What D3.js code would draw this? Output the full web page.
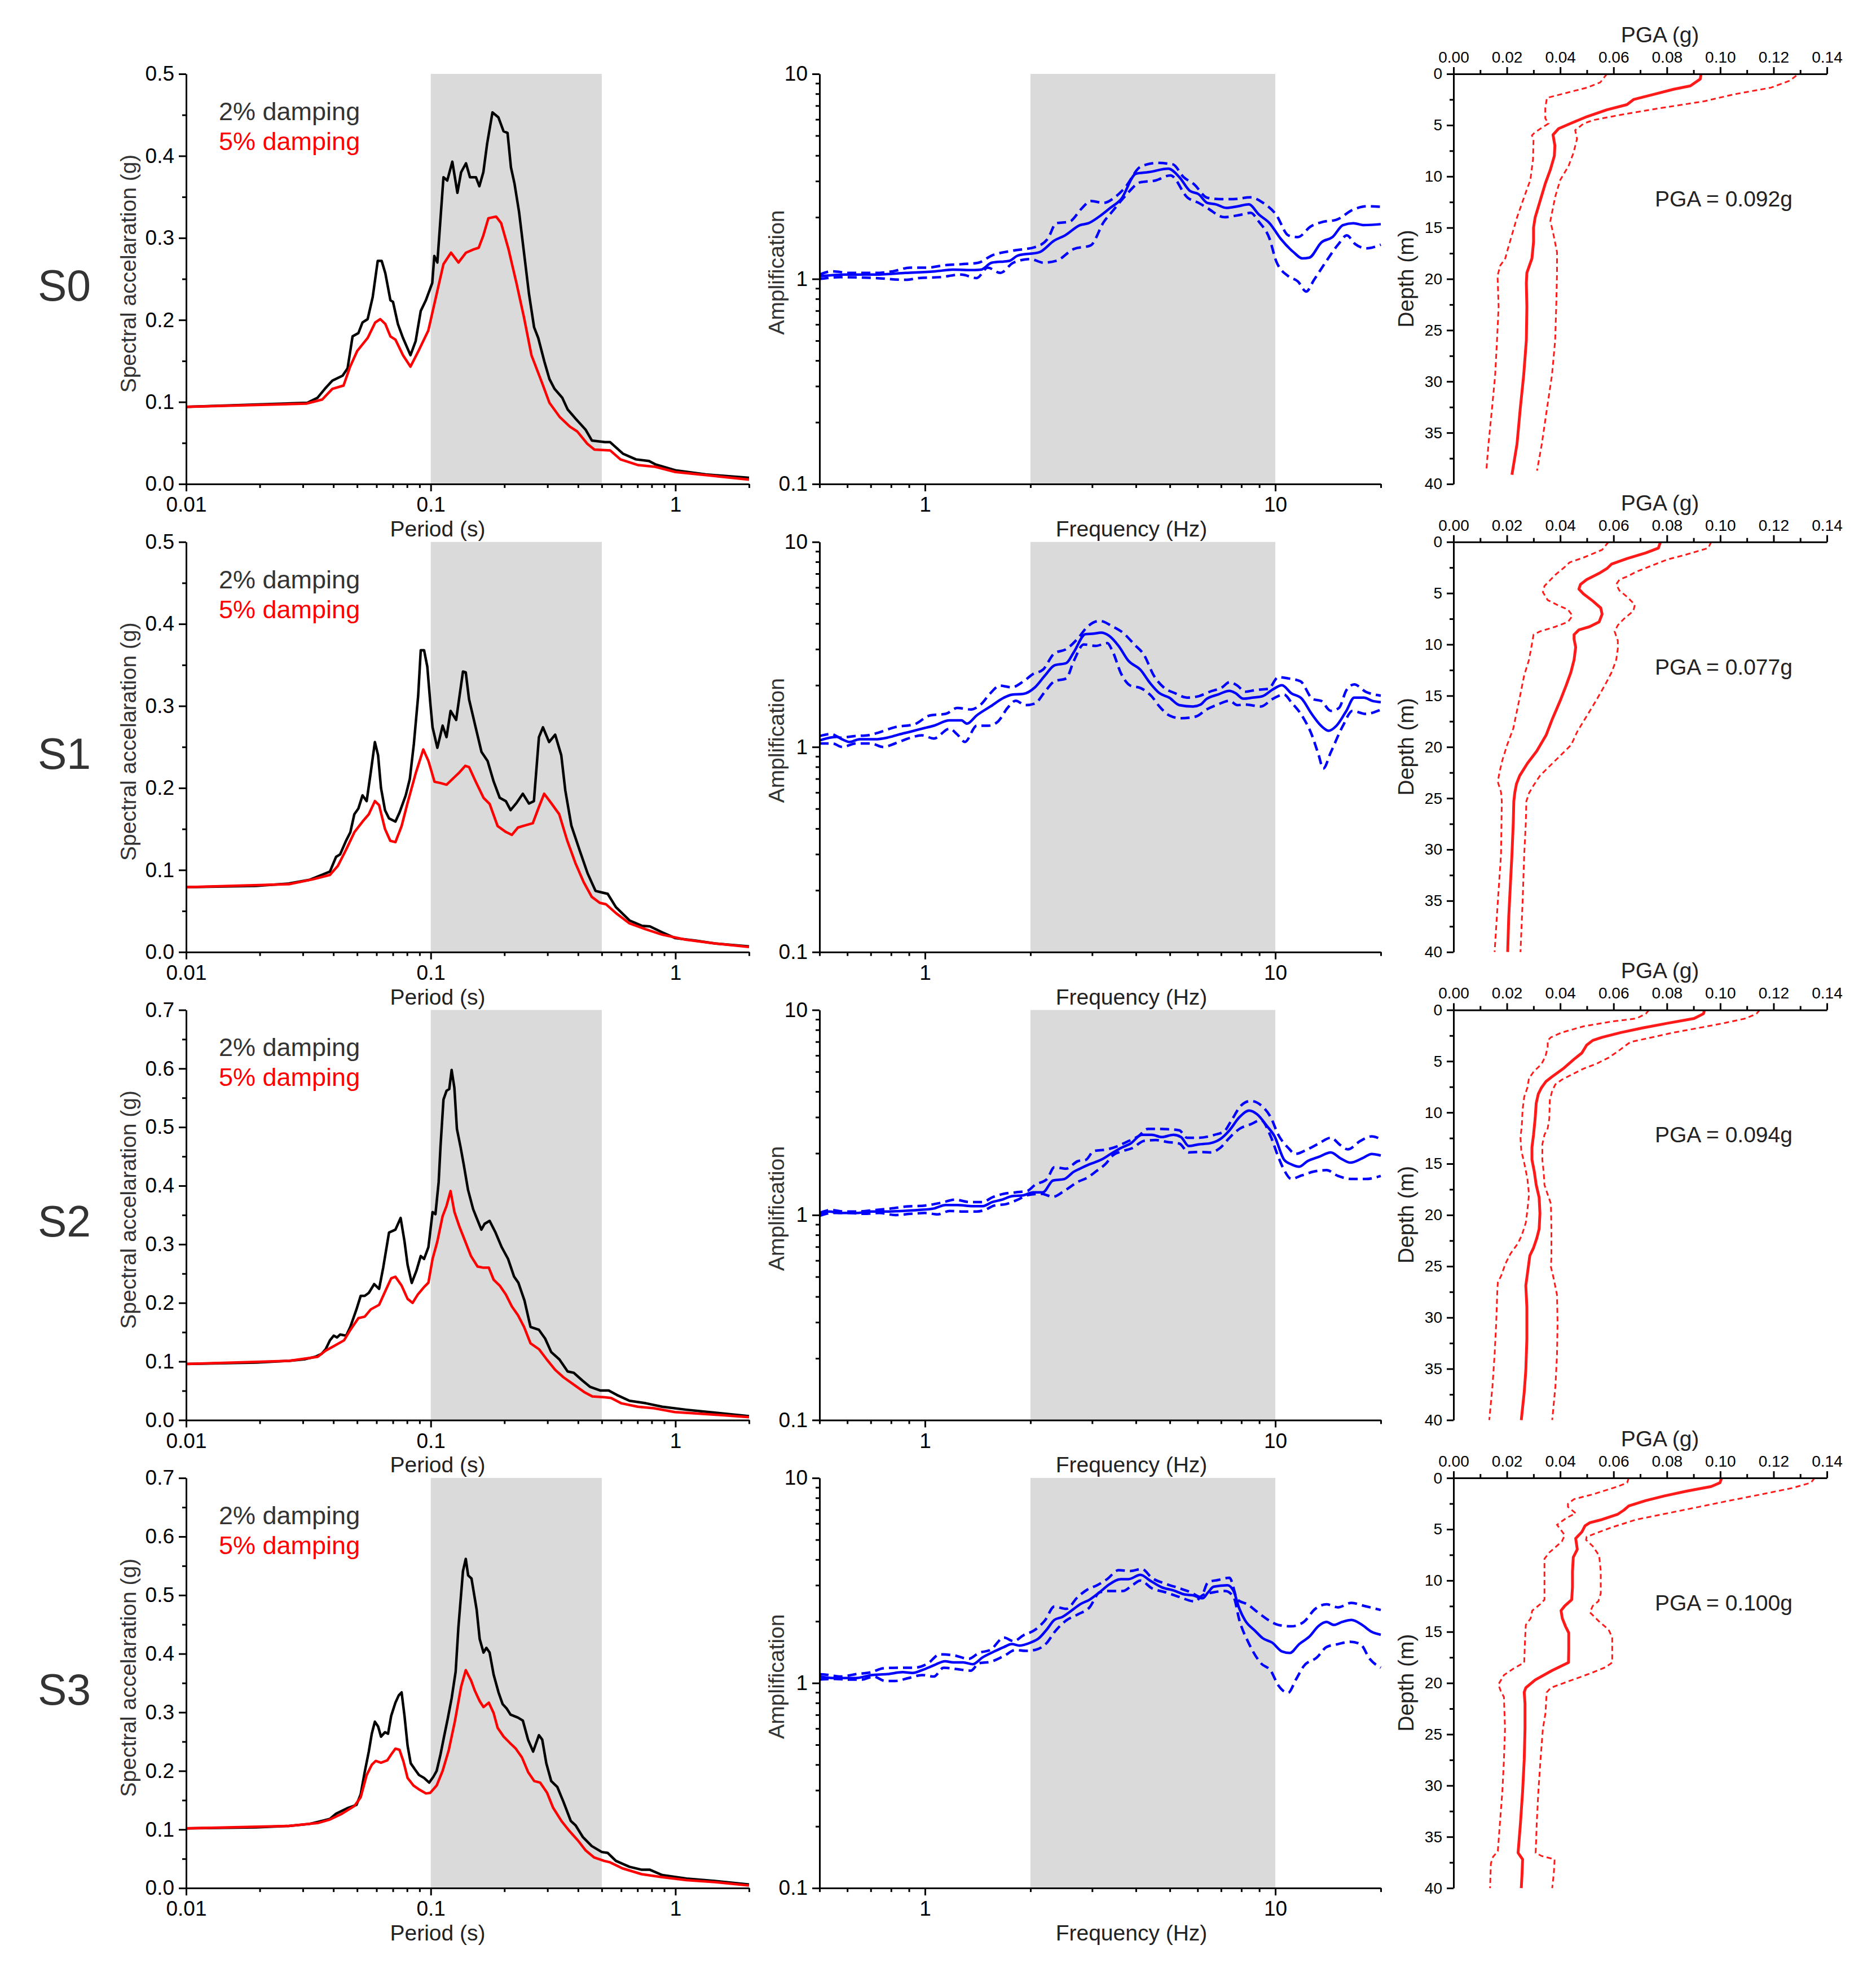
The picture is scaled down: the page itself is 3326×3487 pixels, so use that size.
<!DOCTYPE html>
<html>
<head>
<meta charset="utf-8">
<script src="https://cdn.jsdelivr.net/npm/d3@7"></script>
<style>
  body { margin: 0; background: #fff; }
  svg { display: block; }
</style>
</head>
<body>
<svg id="fig"></svg>
<script>
// sites and tick labels
const siteNames = ['S0', 'S1', 'S2', 'S3'];
const saMax = [0.5, 0.5, 0.7, 0.7];
const sitePga = ['0.092', '0.077', '0.094', '0.100'];
const periodTicks = [0.01, 0.1, 1];
const freqTicks = [1, 10];
const ampTicks = [0.1, 1, 10];
const pgaTicks = [0, 0.02, 0.04, 0.06, 0.08, 0.10, 0.12, 0.14];
const depthTicks = [0, 5, 10, 15, 20, 25, 30, 35, 40];

// response spectra [period s, Sa g]
const s0Sa2 = [[0.01,0.094],[0.0313,0.099],[0.0344,0.105],[0.0369,0.116],[0.0396,0.126],[0.0436,0.132],[0.0457,0.141],[0.0479,0.180],[0.0506,0.184],[0.0526,0.197],[0.0552,0.201],[0.0579,0.228],[0.0607,0.272],[0.063,0.272],[0.0652,0.257],[0.0684,0.224],[0.0701,0.222],[0.0734,0.195],[0.077,0.178],[0.0826,0.157],[0.0867,0.174],[0.091,0.211],[0.0955,0.224],[0.1014,0.245],[0.1034,0.278],[0.1064,0.270],[0.1127,0.374],[0.1168,0.370],[0.1225,0.393],[0.1285,0.355],[0.133,0.380],[0.1393,0.391],[0.1446,0.374],[0.153,0.374],[0.158,0.363],[0.164,0.380],[0.170,0.415],[0.1787,0.453],[0.189,0.447],[0.1984,0.430],[0.206,0.428],[0.2127,0.386],[0.22,0.366],[0.2295,0.332],[0.2405,0.282],[0.252,0.232],[0.2645,0.191],[0.275,0.178],[0.2915,0.149],[0.3055,0.128],[0.3205,0.116],[0.345,0.105],[0.3625,0.091],[0.39,0.080],[0.43,0.066],[0.4555,0.053],[0.5155,0.051],[0.541,0.051],[0.61,0.037],[0.69,0.030],[0.78,0.028],[0.827,0.024],[1.0,0.0167],[1.33,0.0117],[2.0,0.0075]];
const s0Sa5 = [[0.01,0.094],[0.031,0.098],[0.036,0.103],[0.0396,0.116],[0.044,0.120],[0.0468,0.143],[0.05,0.162],[0.0552,0.178],[0.0593,0.197],[0.0622,0.201],[0.0652,0.195],[0.0684,0.180],[0.0717,0.176],[0.077,0.157],[0.0826,0.143],[0.089,0.162],[0.0977,0.187],[0.105,0.228],[0.1127,0.268],[0.121,0.282],[0.1298,0.270],[0.1393,0.282],[0.1496,0.286],[0.157,0.288],[0.164,0.303],[0.172,0.324],[0.185,0.326],[0.194,0.318],[0.208,0.286],[0.224,0.245],[0.2405,0.203],[0.258,0.157],[0.2845,0.124],[0.3055,0.099],[0.336,0.082],[0.37,0.070],[0.397,0.064],[0.4365,0.049],[0.4665,0.042],[0.541,0.041],[0.596,0.030],[0.705,0.023],[0.827,0.021],[1.0,0.0146],[1.46,0.0096],[2.0,0.0054]];
const s1Sa2 = [[0.01,0.079],[0.0193,0.0806],[0.0263,0.0835],[0.0319,0.088],[0.0358,0.094],[0.0387,0.098],[0.041,0.116],[0.0426,0.119],[0.0451,0.136],[0.0469,0.146],[0.0487,0.168],[0.0506,0.175],[0.0526,0.191],[0.0547,0.184],[0.0569,0.220],[0.0591,0.256],[0.0609,0.240],[0.0626,0.200],[0.065,0.173],[0.0675,0.163],[0.0717,0.159],[0.0745,0.170],[0.079,0.191],[0.0821,0.211],[0.0853,0.254],[0.0888,0.312],[0.091,0.368],[0.0939,0.368],[0.0968,0.348],[0.0996,0.303],[0.1017,0.274],[0.1064,0.249],[0.1118,0.276],[0.116,0.262],[0.1205,0.294],[0.127,0.283],[0.1354,0.342],[0.139,0.341],[0.1434,0.308],[0.152,0.276],[0.1612,0.244],[0.1707,0.233],[0.1807,0.208],[0.1914,0.188],[0.2027,0.184],[0.212,0.173],[0.2245,0.182],[0.2379,0.193],[0.252,0.181],[0.264,0.184],[0.2768,0.262],[0.2875,0.274],[0.3045,0.256],[0.3225,0.265],[0.3415,0.240],[0.3548,0.197],[0.3757,0.154],[0.405,0.125],[0.4375,0.096],[0.4715,0.0745],[0.4992,0.0727],[0.5286,0.071],[0.5712,0.0547],[0.6491,0.0385],[0.7288,0.032],[0.7865,0.0313],[0.8828,0.024],[1.0,0.0169],[1.2,0.014],[1.45,0.0104],[2.0,0.0068]];
const s1Sa5 = [[0.01,0.079],[0.0263,0.0827],[0.0331,0.0888],[0.0387,0.094],[0.0417,0.105],[0.0451,0.125],[0.0487,0.146],[0.0526,0.159],[0.0558,0.168],[0.0591,0.184],[0.0615,0.179],[0.065,0.150],[0.0683,0.1356],[0.0717,0.134],[0.076,0.1536],[0.0804,0.182],[0.0868,0.218],[0.0932,0.247],[0.0978,0.233],[0.1036,0.2076],[0.1096,0.206],[0.116,0.204],[0.1228,0.211],[0.13,0.218],[0.1383,0.227],[0.1434,0.2255],[0.152,0.209],[0.1643,0.188],[0.174,0.1806],[0.1876,0.1536],[0.2027,0.1464],[0.2145,0.1428],[0.2272,0.1518],[0.2424,0.1543],[0.2612,0.157],[0.2768,0.177],[0.2908,0.193],[0.31,0.182],[0.335,0.168],[0.3615,0.1356],[0.39,0.1086],[0.4215,0.0853],[0.455,0.0673],[0.4906,0.060],[0.5198,0.0583],[0.5712,0.0475],[0.6491,0.0349],[0.7565,0.0277],[0.8828,0.0212],[1.1,0.0151],[1.45,0.0104],[2.0,0.0061]];
const s2Sa2 = [[0.01,0.0958],[0.0193,0.098],[0.0263,0.101],[0.0307,0.104],[0.0337,0.108],[0.0358,0.113],[0.0372,0.121],[0.0387,0.136],[0.0401,0.144],[0.0414,0.141],[0.0426,0.146],[0.0451,0.144],[0.0469,0.159],[0.0497,0.189],[0.0517,0.212],[0.0537,0.212],[0.0558,0.217],[0.0587,0.232],[0.0615,0.224],[0.0639,0.26],[0.0675,0.32],[0.0717,0.325],[0.0753,0.345],[0.0781,0.305],[0.0804,0.265],[0.0836,0.234],[0.0874,0.255],[0.091,0.28],[0.0939,0.275],[0.0978,0.295],[0.1017,0.355],[0.1045,0.3515],[0.1077,0.406],[0.1096,0.4665],[0.1127,0.547],[0.116,0.562],[0.119,0.565],[0.1217,0.5975],[0.1249,0.567],[0.1279,0.497],[0.1323,0.4665],[0.1364,0.436],[0.142,0.393],[0.149,0.36],[0.154,0.345],[0.161,0.325],[0.166,0.335],[0.174,0.34],[0.184,0.32],[0.195,0.295],[0.207,0.275],[0.219,0.245],[0.228,0.2345],[0.2416,0.204],[0.2557,0.159],[0.2768,0.154],[0.2935,0.139],[0.3107,0.116],[0.3357,0.1034],[0.3626,0.083],[0.3843,0.0807],[0.4152,0.068],[0.4485,0.0565],[0.4938,0.0504],[0.5335,0.0504],[0.576,0.0429],[0.6491,0.0328],[0.7566,0.0287],[0.883,0.0227],[1.11,0.0176],[1.45,0.0126],[2.0,0.0066]];
const s2Sa5 = [[0.01,0.0958],[0.0263,0.101],[0.0345,0.108],[0.0372,0.1185],[0.0401,0.126],[0.0442,0.136],[0.0469,0.1538],[0.0506,0.174],[0.0537,0.1765],[0.0569,0.189],[0.0615,0.1967],[0.065,0.219],[0.0689,0.242],[0.0717,0.2446],[0.076,0.2295],[0.0804,0.2068],[0.0843,0.200],[0.0885,0.2143],[0.0939,0.227],[0.0978,0.2345],[0.1017,0.275],[0.1064,0.305],[0.1118,0.348],[0.116,0.3656],[0.1205,0.391],[0.1249,0.3555],[0.131,0.330],[0.1383,0.305],[0.146,0.28],[0.1553,0.262],[0.1643,0.26],[0.1727,0.26],[0.1807,0.2395],[0.1914,0.2295],[0.2027,0.2143],[0.2145,0.194],[0.2272,0.179],[0.2406,0.159],[0.2557,0.131],[0.2768,0.121],[0.298,0.1034],[0.3225,0.0857],[0.3485,0.0731],[0.3843,0.0605],[0.4235,0.0479],[0.4575,0.0403],[0.5143,0.0388],[0.5455,0.0378],[0.6,0.0287],[0.7013,0.0227],[0.8183,0.0202],[0.9945,0.0136],[1.35,0.0101],[2.0,0.005]];
const s3Sa2 = [[0.01,0.102],[0.0193,0.1035],[0.0263,0.106],[0.0319,0.1095],[0.0358,0.1146],[0.0387,0.118],[0.041,0.127],[0.0434,0.132],[0.046,0.137],[0.0497,0.142],[0.0517,0.16],[0.0537,0.198],[0.0558,0.233],[0.0574,0.2635],[0.0591,0.284],[0.0609,0.276],[0.0626,0.2585],[0.065,0.266],[0.0669,0.2635],[0.0689,0.294],[0.0717,0.3165],[0.074,0.329],[0.076,0.334],[0.0781,0.294],[0.0804,0.243],[0.0828,0.213],[0.086,0.203],[0.0895,0.193],[0.0939,0.188],[0.0985,0.18],[0.1025,0.19],[0.1057,0.2],[0.1096,0.228],[0.113,0.256],[0.1173,0.289],[0.1217,0.324],[0.1264,0.3695],[0.1297,0.445],[0.1354,0.541],[0.139,0.562],[0.1422,0.5336],[0.1467,0.5285],[0.154,0.4755],[0.1585,0.425],[0.1643,0.402],[0.1688,0.41],[0.174,0.402],[0.1807,0.3645],[0.1892,0.334],[0.1967,0.314],[0.2043,0.3065],[0.212,0.296],[0.2272,0.291],[0.2379,0.286],[0.25,0.253],[0.2621,0.233],[0.2768,0.261],[0.2855,0.2535],[0.2967,0.213],[0.3107,0.1827],[0.3291,0.1726],[0.3485,0.1474],[0.3736,0.1146],[0.391,0.107],[0.419,0.0868],[0.455,0.0717],[0.5,0.0616],[0.529,0.06],[0.5712,0.0464],[0.6491,0.0363],[0.7288,0.0313],[0.7865,0.0313],[0.883,0.0222],[1.11,0.0162],[1.45,0.0121],[2.0,0.0061]];
const s3Sa5 = [[0.01,0.102],[0.0263,0.106],[0.0345,0.111],[0.0387,0.117],[0.0434,0.127],[0.0487,0.14],[0.0517,0.155],[0.0547,0.193],[0.0574,0.2105],[0.0596,0.217],[0.0626,0.214],[0.0664,0.218],[0.0689,0.228],[0.0717,0.238],[0.0745,0.236],[0.0774,0.2155],[0.0804,0.188],[0.085,0.175],[0.0902,0.1676],[0.0956,0.1615],[0.0995,0.1625],[0.1057,0.175],[0.1118,0.2],[0.1185,0.2357],[0.1254,0.284],[0.1331,0.344],[0.139,0.372],[0.1461,0.3544],[0.1515,0.3367],[0.1585,0.319],[0.1643,0.309],[0.1727,0.3165],[0.1807,0.2988],[0.1876,0.2736],[0.1986,0.2585],[0.2103,0.248],[0.2227,0.238],[0.2359,0.223],[0.25,0.198],[0.2646,0.1827],[0.2801,0.18],[0.299,0.1625],[0.3164,0.137],[0.3421,0.1146],[0.3694,0.097],[0.3986,0.0818],[0.4302,0.0641],[0.4643,0.0525],[0.5112,0.0464],[0.5405,0.044],[0.6065,0.0338],[0.7288,0.0237],[0.883,0.0187],[1.11,0.0136],[1.45,0.0101],[2.0,0.0045]];

// amplification [frequency Hz, amplification]
const s0AmpMean = [[0.5,1.03],[0.592,1.05],[0.722,1.05],[0.88,1.07],[1.073,1.09],[1.2,1.11],[1.385,1.105],[1.445,1.11],[1.55,1.2],[1.74,1.225],[1.84,1.3],[2.12,1.35],[2.34,1.54],[2.51,1.63],[2.77,1.83],[2.93,1.87],[3.15,2.02],[3.38,2.22],[3.63,2.45],[4.0,3.26],[4.36,3.32],[4.95,3.45],[5.32,3.14],[5.7,2.69],[6.04,2.59],[6.39,2.35],[6.77,2.31],[7.26,2.22],[7.81,2.26],[8.4,2.31],[8.98,2.06],[9.63,1.87],[10.36,1.57],[11.28,1.35],[11.94,1.26],[12.5,1.27],[13.55,1.51],[14.56,1.6],[15.6,1.83],[16.7,1.87],[17.9,1.83],[20,1.85]];
const s0AmpHigh = [[0.5,1.05],[0.544,1.09],[0.61,1.07],[0.72,1.07],[0.81,1.09],[0.906,1.135],[1.01,1.135],[1.136,1.166],[1.27,1.18],[1.42,1.2],[1.55,1.3],[1.787,1.375],[2.06,1.43],[2.24,1.57],[2.37,1.87],[2.58,1.9],[2.81,2.22],[2.97,2.4],[3.24,2.35],[3.47,2.49],[3.73,2.8],[4.12,3.52],[4.6,3.68],[5.1,3.62],[5.47,3.14],[5.86,2.9],[6.39,2.49],[6.95,2.45],[7.6,2.45],[8.5,2.5],[9.23,2.35],[10.05,2.06],[10.9,1.63],[11.6,1.6],[12.6,1.8],[13.7,1.9],[14.9,1.94],[16.7,2.18],[18.2,2.26],[20,2.25]];
const s0AmpLow = [[0.5,1.0],[0.575,1.02],[0.72,1.01],[0.88,0.99],[0.96,1.01],[1.1,1.02],[1.27,1.05],[1.405,1.01],[1.51,1.135],[1.64,1.07],[1.787,1.2],[2.0,1.25],[2.18,1.2],[2.37,1.225],[2.66,1.4],[2.97,1.457],[3.24,1.9],[3.43,2.14],[3.73,2.54],[4.12,2.96],[4.55,3.02],[5.02,3.2],[5.62,2.49],[6.04,2.35],[6.39,2.22],[7.15,2.0],[8.0,2.06],[8.5,2.1],[8.98,1.9],[9.63,1.57],[10.05,1.225],[10.9,1.03],[11.6,0.973],[12.25,0.868],[12.9,0.99],[14.0,1.225],[15.15,1.48],[16.0,1.63],[16.9,1.48],[18.2,1.41],[20,1.47]];
const s1AmpMean = [[0.5,1.076],[0.56,1.12],[0.58,1.09],[0.61,1.058],[0.65,1.09],[0.72,1.09],[0.78,1.11],[0.842,1.15],[0.91,1.188],[0.995,1.236],[1.06,1.27],[1.175,1.348],[1.27,1.348],[1.318,1.3],[1.405,1.426],[1.537,1.575],[1.68,1.74],[1.77,1.8],[1.91,1.816],[2.06,1.954],[2.2,2.23],[2.34,2.5],[2.53,2.565],[2.66,2.9],[2.87,3.55],[3.03,3.57],[3.18,3.61],[3.35,3.49],[3.57,3.11],[3.81,2.63],[4.12,2.38],[4.39,2.05],[4.67,1.83],[4.98,1.74],[5.32,1.6],[5.82,1.575],[6.12,1.61],[6.35,1.71],[6.85,1.8],[7.4,1.877],[7.7,1.83],[8.1,1.72],[8.6,1.74],[9.2,1.77],[9.8,1.9],[10.45,2.0],[11.1,1.83],[11.9,1.72],[12.7,1.45],[13.5,1.27],[14.2,1.2],[14.95,1.27],[15.95,1.5],[16.8,1.74],[17.9,1.74],[18.9,1.68],[20,1.655]];
const s1AmpHigh = [[0.5,1.13],[0.54,1.157],[0.574,1.11],[0.628,1.13],[0.687,1.14],[0.742,1.18],[0.821,1.249],[0.933,1.29],[1.034,1.426],[1.145,1.45],[1.237,1.55],[1.352,1.524],[1.442,1.61],[1.537,1.83],[1.638,1.99],[1.77,1.954],[1.91,2.09],[2.036,2.27],[2.17,2.38],[2.34,2.86],[2.53,3.0],[2.73,3.38],[2.91,3.86],[3.15,4.12],[3.44,3.86],[3.67,3.61],[3.96,3.16],[4.22,2.81],[4.5,2.23],[4.8,1.954],[5.17,1.83],[5.6,1.74],[6.05,1.77],[6.5,1.86],[7.05,1.954],[7.4,2.07],[7.8,1.99],[8.2,1.86],[8.85,1.9],[9.55,1.92],[10.2,2.19],[10.88,2.16],[11.8,2.09],[12.8,1.71],[13.5,1.68],[14.4,1.5],[15.2,1.55],[15.95,1.89],[16.8,2.02],[18.1,1.86],[20,1.78]];
const s1AmpLow = [[0.5,1.04],[0.545,1.04],[0.58,1.0],[0.636,1.04],[0.7,1.04],[0.76,1.0],[0.821,1.04],[0.91,1.11],[0.98,1.14],[1.06,1.1],[1.175,1.228],[1.237,1.15],[1.3,1.058],[1.405,1.27],[1.517,1.27],[1.618,1.334],[1.72,1.55],[1.815,1.68],[1.935,1.6],[2.06,1.63],[2.2,1.86],[2.34,2.09],[2.53,2.16],[2.66,2.63],[2.84,3.16],[3.07,3.11],[3.31,3.21],[3.44,2.9],[3.62,2.3],[3.86,1.99],[4.12,1.94],[4.43,1.77],[4.67,1.575],[4.98,1.426],[5.38,1.38],[5.95,1.41],[6.35,1.52],[6.85,1.61],[7.4,1.68],[7.8,1.6],[8.2,1.61],[9.1,1.575],[9.8,1.71],[10.6,1.8],[11.1,1.655],[11.9,1.426],[12.7,1.15],[13.3,0.911],[13.7,0.785],[14.4,0.942],[15.6,1.27],[16.6,1.5],[18.1,1.45],[20,1.52]];
const s2AmpMean = [[0.5,1.007],[0.532,1.04],[0.574,1.023],[0.636,1.023],[0.704,1.04],[0.78,1.04],[0.864,1.047],[0.957,1.058],[1.06,1.076],[1.145,1.119],[1.237,1.119],[1.37,1.105],[1.46,1.105],[1.557,1.157],[1.66,1.188],[1.77,1.236],[1.91,1.248],[2.036,1.29],[2.17,1.29],[2.32,1.473],[2.5,1.498],[2.66,1.627],[2.77,1.683],[2.95,1.768],[3.18,1.858],[3.39,1.985],[3.62,2.12],[3.86,2.23],[4.16,2.46],[4.44,2.46],[4.74,2.4],[5.12,2.46],[5.38,2.4],[5.66,2.17],[6.04,2.21],[6.52,2.24],[6.95,2.34],[7.4,2.59],[7.9,3.0],[8.42,3.23],[8.87,3.1],[9.46,2.72],[9.95,2.42],[10.6,1.858],[11.1,1.768],[11.7,1.72],[12.35,1.83],[13.3,1.92],[14.4,2.02],[15.35,1.89],[16.4,1.8],[17.7,1.89],[18.85,1.985],[20,1.95]];
const s2AmpHigh = [[0.5,1.023],[0.54,1.058],[0.589,1.04],[0.636,1.04],[0.722,1.058],[0.8,1.076],[0.887,1.1],[1.0,1.112],[1.116,1.149],[1.22,1.188],[1.335,1.157],[1.46,1.157],[1.557,1.22],[1.68,1.269],[1.815,1.29],[1.96,1.312],[2.06,1.402],[2.23,1.498],[2.34,1.71],[2.53,1.683],[2.73,1.83],[2.88,1.858],[3.03,2.05],[3.31,2.09],[3.53,2.16],[3.76,2.27],[4.06,2.42],[4.33,2.63],[4.62,2.63],[4.92,2.62],[5.32,2.59],[5.6,2.38],[6.04,2.38],[6.7,2.46],[7.15,2.56],[7.5,2.9],[8.0,3.43],[8.5,3.6],[9.1,3.43],[9.7,3.0],[10.2,2.46],[10.9,2.12],[11.4,1.985],[12.35,2.09],[13.3,2.23],[14.4,2.38],[15.35,2.19],[16.1,2.09],[17.5,2.3],[18.85,2.42],[20,2.34]];
const s2AmpLow = [[0.5,0.99],[0.545,1.023],[0.604,1.023],[0.669,1.013],[0.742,1.023],[0.821,1.0],[0.91,1.013],[1.0,1.023],[1.088,1.007],[1.175,1.047],[1.285,1.04],[1.405,1.04],[1.48,1.058],[1.577,1.112],[1.702,1.13],[1.84,1.188],[1.96,1.248],[2.143,1.269],[2.32,1.228],[2.5,1.312],[2.73,1.45],[2.91,1.523],[3.07,1.627],[3.27,1.768],[3.44,1.954],[3.67,2.05],[3.91,2.12],[4.22,2.3],[4.56,2.32],[4.92,2.27],[5.32,2.23],[5.66,2.02],[6.04,2.03],[6.52,2.02],[6.95,2.12],[7.4,2.38],[7.9,2.63],[8.5,2.77],[9.1,2.9],[9.7,2.42],[10.2,1.92],[10.6,1.655],[11.1,1.5],[11.9,1.56],[12.85,1.627],[14.0,1.655],[15.1,1.55],[16.6,1.498],[18.1,1.498],[20,1.55]];
const s3AmpMean = [[0.5,1.076],[0.545,1.058],[0.589,1.058],[0.636,1.058],[0.704,1.094],[0.78,1.105],[0.864,1.13],[0.921,1.119],[0.982,1.157],[1.06,1.22],[1.14,1.278],[1.205,1.261],[1.285,1.261],[1.37,1.236],[1.46,1.334],[1.577,1.426],[1.68,1.498],[1.77,1.548],[1.86,1.523],[2.0,1.574],[2.115,1.655],[2.23,1.83],[2.34,2.03],[2.465,2.1],[2.66,2.3],[2.77,2.42],[2.95,2.55],[3.15,2.77],[3.35,3.02],[3.62,3.21],[3.81,3.21],[4.12,3.37],[4.39,3.16],[4.74,2.93],[5.12,2.83],[5.53,2.7],[5.81,2.68],[6.2,2.59],[6.43,2.77],[6.67,2.95],[7.3,3.0],[7.6,2.81],[7.9,2.3],[8.2,2.02],[8.75,1.8],[9.2,1.655],[9.8,1.574],[10.45,1.426],[11.0,1.402],[11.7,1.548],[12.5,1.683],[13.3,1.9],[14.0,1.985],[14.7,1.92],[15.5,1.985],[16.5,2.03],[17.7,1.92],[18.8,1.78],[20,1.72]];
const s3AmpHigh = [[0.5,1.105],[0.532,1.094],[0.574,1.076],[0.636,1.105],[0.704,1.13],[0.76,1.18],[0.842,1.188],[0.933,1.188],[1.02,1.248],[1.102,1.38],[1.205,1.366],[1.335,1.312],[1.424,1.402],[1.537,1.45],[1.68,1.665],[1.79,1.6],[1.91,1.71],[2.06,1.816],[2.2,2.02],[2.34,2.36],[2.53,2.3],[2.73,2.63],[2.91,2.86],[3.1,3.0],[3.31,3.21],[3.57,3.55],[3.86,3.52],[4.16,3.6],[4.44,3.26],[4.86,3.05],[5.32,2.9],[5.74,2.77],[6.12,2.63],[6.43,3.1],[6.85,3.18],[7.4,3.26],[7.8,2.55],[8.32,2.42],[8.98,2.19],[9.55,2.03],[10.2,1.92],[11.1,1.89],[12.05,1.985],[13.0,2.3],[14.0,2.42],[15.1,2.34],[16.5,2.46],[17.9,2.38],[20,2.27]];
const s3AmpLow = [[0.5,1.04],[0.545,1.047],[0.604,1.04],[0.661,1.04],[0.713,1.076],[0.77,1.023],[0.821,1.023],[0.898,1.058],[0.982,1.094],[1.06,1.076],[1.13,1.188],[1.237,1.168],[1.352,1.149],[1.424,1.248],[1.537,1.269],[1.68,1.356],[1.815,1.45],[1.935,1.435],[2.06,1.45],[2.23,1.574],[2.34,1.768],[2.53,2.02],[2.73,2.16],[2.95,2.34],[3.15,2.77],[3.35,2.81],[3.67,2.81],[3.91,3.0],[4.12,3.16],[4.44,2.9],[4.86,2.77],[5.32,2.63],[5.89,2.5],[6.2,2.68],[6.67,2.77],[7.2,2.81],[7.6,2.63],[7.9,2.02],[8.42,1.55],[9.1,1.248],[9.7,1.149],[10.2,0.974],[10.88,0.896],[11.45,1.04],[12.05,1.208],[13.15,1.334],[14.0,1.498],[15.1,1.548],[16.4,1.59],[17.5,1.548],[18.6,1.312],[20,1.188]];

// PGA profiles [PGA g, depth m]
const s0PgaMean = [[0.0928,0],[0.0925,0.5],[0.0888,1.17],[0.0825,1.5],[0.075,2.0],[0.0675,2.5],[0.065,3.0],[0.0575,3.5],[0.05,4.17],[0.0438,4.84],[0.0394,5.34],[0.0373,5.94],[0.038,7.0],[0.0378,8.0],[0.0363,9.35],[0.0344,10.7],[0.0325,12.35],[0.0306,14.0],[0.03,15.0],[0.03,16.4],[0.0294,18.0],[0.0275,19.4],[0.0273,20.4],[0.0275,22.7],[0.0273,26.0],[0.0263,29.4],[0.025,32.7],[0.0238,36.1],[0.0219,39.1]];
const s0PgaLow = [[0.0575,0],[0.055,0.83],[0.05,1.34],[0.0425,1.84],[0.035,2.34],[0.0344,3.34],[0.0344,4.34],[0.0356,4.84],[0.0306,5.68],[0.0294,6.0],[0.03,6.34],[0.0298,8.35],[0.0288,10.35],[0.0269,11.7],[0.0238,14.0],[0.02,17.4],[0.0194,18.0],[0.0175,18.7],[0.0165,19.7],[0.0169,22.7],[0.0163,26.0],[0.0156,29.4],[0.0144,32.7],[0.0131,36.1],[0.0123,38.7]];
const s0PgaHigh = [[0.1285,0.17],[0.126,0.67],[0.119,1.34],[0.105,2.0],[0.094,2.67],[0.0775,3.34],[0.0625,4.0],[0.0525,4.5],[0.0488,4.84],[0.0456,5.5],[0.0463,6.34],[0.045,7.68],[0.0431,9.0],[0.04,10.35],[0.0381,12.0],[0.0363,14.35],[0.0375,15.7],[0.0388,17.4],[0.0388,19.4],[0.0385,22.7],[0.0381,26.0],[0.0369,29.4],[0.035,32.7],[0.0331,36.1],[0.0313,38.7]];
const s1PgaMean = [[0.0776,0],[0.0768,0.6],[0.0721,1.07],[0.0651,1.62],[0.0593,2.15],[0.0575,2.6],[0.0546,3.06],[0.0499,3.68],[0.0476,4.14],[0.047,4.6],[0.0487,5.06],[0.0522,5.76],[0.0552,6.44],[0.0557,7.05],[0.0546,7.8],[0.051,8.27],[0.047,8.58],[0.0452,9.04],[0.0452,9.5],[0.0458,10.27],[0.0452,11.5],[0.044,12.72],[0.0423,13.94],[0.04,15.48],[0.037,17.3],[0.0347,18.85],[0.0312,20.4],[0.0277,21.6],[0.0248,22.8],[0.0236,23.6],[0.023,24.4],[0.0226,25.3],[0.0224,27.4],[0.0219,30.5],[0.0213,33.5],[0.0207,36.6],[0.0203,40]];
const s1PgaLow = [[0.0581,0],[0.0557,0.77],[0.0487,1.53],[0.0435,2.0],[0.0417,2.45],[0.0382,3.2],[0.0341,4.3],[0.0335,4.9],[0.0353,5.67],[0.0388,6.13],[0.0429,6.6],[0.0446,7.2],[0.0429,7.8],[0.0382,8.27],[0.0324,8.73],[0.03,9.04],[0.0295,9.8],[0.0283,11.5],[0.0265,13.0],[0.0248,15.2],[0.0224,18.2],[0.0201,19.8],[0.0183,21.3],[0.0172,22.5],[0.0166,23.4],[0.0178,24.4],[0.0181,25.3],[0.0178,30.5],[0.0166,35.1],[0.0154,40]];
const s1PgaHigh = [[0.0966,0],[0.0955,0.6],[0.0873,1.23],[0.0803,1.7],[0.0744,2.3],[0.0686,2.9],[0.0651,3.37],[0.0622,3.68],[0.061,4.14],[0.0622,4.75],[0.0651,5.36],[0.068,6.13],[0.0674,6.74],[0.0639,7.5],[0.0616,8.12],[0.0604,8.73],[0.0616,9.65],[0.0616,10.4],[0.061,11.5],[0.0593,12.7],[0.0569,13.9],[0.0534,15.5],[0.0499,17.0],[0.0464,18.5],[0.0441,19.8],[0.0406,20.7],[0.0359,21.9],[0.0324,22.8],[0.03,23.75],[0.0283,24.5],[0.0273,25.3],[0.0271,27.4],[0.0265,30.5],[0.0259,35.1],[0.0251,40]];
const s2PgaMean = [[0.0941,0],[0.0937,0.37],[0.0902,0.83],[0.0803,1.29],[0.0709,1.75],[0.0628,2.2],[0.0557,2.67],[0.0522,2.97],[0.0499,3.43],[0.0481,4.2],[0.0452,4.8],[0.0411,5.73],[0.037,6.5],[0.0347,6.96],[0.033,7.57],[0.0318,8.18],[0.031,9.1],[0.0306,10.6],[0.03,12.17],[0.0294,13.4],[0.0294,14.6],[0.0303,15.8],[0.031,17.07],[0.0321,18.3],[0.0324,19.83],[0.0321,21.36],[0.0312,22.28],[0.03,23.2],[0.0286,23.97],[0.0279,25.34],[0.0271,26.88],[0.0275,29.0],[0.0275,32.1],[0.0271,35.15],[0.0265,37.3],[0.0254,40]];
const s2PgaLow = [[0.0733,0],[0.0721,0.37],[0.0686,0.83],[0.0593,1.13],[0.0487,1.6],[0.0406,2.2],[0.0365,2.67],[0.0353,2.97],[0.0353,3.59],[0.0345,4.5],[0.033,5.27],[0.03,6.04],[0.0283,6.65],[0.0277,7.57],[0.0265,8.49],[0.0259,9.7],[0.0256,11.25],[0.0251,12.47],[0.0254,13.7],[0.0265,14.92],[0.0277,16.46],[0.0283,18.0],[0.0277,19.52],[0.0271,20.75],[0.0256,21.97],[0.0242,22.74],[0.0213,23.8],[0.0195,24.73],[0.0178,25.96],[0.0166,26.57],[0.0164,27.5],[0.016,30.55],[0.0154,33.6],[0.0146,36.7],[0.0134,40]];
const s2PgaHigh = [[0.1148,0],[0.1136,0.37],[0.1095,0.83],[0.1013,1.29],[0.092,1.75],[0.0826,2.2],[0.0744,2.67],[0.0663,3.13],[0.0639,3.59],[0.0616,4.05],[0.0581,4.66],[0.0534,5.27],[0.0487,5.73],[0.0452,6.19],[0.0406,6.8],[0.0382,7.26],[0.037,7.88],[0.0361,8.8],[0.0359,10.63],[0.0353,11.55],[0.0341,12.17],[0.0333,13.09],[0.0333,14.62],[0.0338,15.84],[0.0341,17.07],[0.0353,18.0],[0.0365,18.9],[0.0367,21.36],[0.0367,24.12],[0.0365,25.04],[0.0376,26.26],[0.0388,27.8],[0.039,30.55],[0.0388,33.6],[0.0382,36.7],[0.037,40]];
const s3PgaMean = [[0.1005,0],[0.0999,0.46],[0.0966,0.83],[0.0873,1.29],[0.0791,1.75],[0.0721,2.2],[0.0657,2.73],[0.0639,3.13],[0.0616,3.53],[0.0557,4.05],[0.0511,4.36],[0.0493,4.66],[0.0481,5.27],[0.0458,5.89],[0.0464,6.96],[0.0449,7.73],[0.0446,9.1],[0.0446,10.64],[0.0443,11.87],[0.0417,12.48],[0.0403,12.94],[0.0408,13.7],[0.042,14.48],[0.0432,15.1],[0.0432,16.78],[0.0431,18.0],[0.037,18.77],[0.0306,19.7],[0.0271,20.46],[0.0265,20.9],[0.0268,22.0],[0.0268,24.45],[0.0265,27.5],[0.0259,30.58],[0.0251,33.65],[0.0242,36.56],[0.0259,37.2],[0.0257,38.55],[0.0254,40]];
const s3PgaLow = [[0.0657,0],[0.0651,0.46],[0.0616,0.83],[0.0522,1.6],[0.0452,2.06],[0.0429,2.52],[0.0429,2.82],[0.0458,3.44],[0.0423,3.9],[0.0388,4.57],[0.04,4.97],[0.0417,5.58],[0.0406,6.2],[0.0359,7.27],[0.0341,7.88],[0.0341,9.72],[0.0341,11.87],[0.0324,12.33],[0.0295,12.94],[0.0289,13.7],[0.0271,14.33],[0.0268,15.86],[0.0265,18.0],[0.0224,18.6],[0.0189,19.23],[0.0168,20.15],[0.0177,20.77],[0.0189,21.38],[0.0193,24.45],[0.0189,27.5],[0.0183,30.58],[0.0174,33.65],[0.0166,36.4],[0.0148,36.96],[0.014,37.6],[0.0137,40]];
const s3PgaHigh = [[0.1354,0],[0.134,0.46],[0.127,0.98],[0.1153,1.6],[0.1037,2.2],[0.092,2.82],[0.0803,3.44],[0.0686,4.05],[0.0593,4.82],[0.0546,5.27],[0.0499,5.74],[0.0497,6.04],[0.0522,6.65],[0.0546,7.58],[0.0552,9.1],[0.0552,11.26],[0.0543,12.02],[0.0522,12.48],[0.0511,13.1],[0.0546,14.0],[0.0581,14.78],[0.0595,15.55],[0.0595,18.0],[0.0569,18.47],[0.0511,19.08],[0.0429,19.85],[0.0365,20.46],[0.0349,20.92],[0.0345,22.9],[0.0335,24.45],[0.0326,27.5],[0.0318,30.58],[0.0312,33.65],[0.0308,36.56],[0.033,36.87],[0.0379,37.2],[0.0376,38.55],[0.037,40]];

const sa2 = [s0Sa2, s1Sa2, s2Sa2, s3Sa2];
const sa5 = [s0Sa5, s1Sa5, s2Sa5, s3Sa5];
const ampMean = [s0AmpMean, s1AmpMean, s2AmpMean, s3AmpMean];
const ampHigh = [s0AmpHigh, s1AmpHigh, s2AmpHigh, s3AmpHigh];
const ampLow = [s0AmpLow, s1AmpLow, s2AmpLow, s3AmpLow];
const pgaMean = [s0PgaMean, s1PgaMean, s2PgaMean, s3PgaMean];
const pgaLow = [s0PgaLow, s1PgaLow, s2PgaLow, s3PgaLow];
const pgaHigh = [s0PgaHigh, s1PgaHigh, s2PgaHigh, s3PgaHigh];

const FONT = '"Liberation Sans", Arial, Helvetica, sans-serif';
const W = 3326, H = 3487;
const rowTop0 = 131, rowPitch = 829.7, plotH = 727;
const saLeft = 330, saRight = 1328;
const ampLeft = 1453, ampRight = 2448;
const pgaLeft = 2577, pgaRight = 3239;
const shadeFill = '#d9dad9';

const svg = d3.select('#fig').attr('width', W).attr('height', H)
  .style('background', '#fff');

function styleAxis(g, size) {
  g.attr('font-family', FONT).attr('font-size', size);
  g.selectAll('text').attr('fill', '#000');
  g.selectAll('line').attr('stroke', '#000').attr('stroke-width', 3);
  g.selectAll('path').attr('stroke', '#000').attr('stroke-width', 3);
}

function minorAxis(g, axis) {
  g.call(axis);
  g.select('.domain').remove();
  g.selectAll('line').attr('stroke', '#000').attr('stroke-width', 3);
}

// log minor tick positions between lo and hi
function logMinors(lo, hi) {
  const out = [];
  for (let p = Math.floor(Math.log10(lo)); p <= Math.ceil(Math.log10(hi)); p++) {
    for (let m = 2; m <= 9; m++) {
      const v = m * Math.pow(10, p);
      if (v >= lo - 1e-9 && v <= hi + 1e-9) out.push(v);
    }
  }
  return out;
}

function addText(x, y, str, size, fill, anchor, rot) {
  const t = svg.append('text')
    .attr('font-family', FONT)
    .attr('font-size', size)
    .attr('fill', fill)
    .attr('text-anchor', anchor || 'start')
    .text(str);
  if (rot) t.attr('transform', `translate(${x},${y}) rotate(${rot})`);
  else t.attr('x', x).attr('y', y);
  return t;
}

siteNames.forEach((site, i) => {
  const top = rowTop0 + i * rowPitch;
  const bottom = top + plotH;

  // ---- response spectra ----
  const x1 = d3.scaleLog().domain([0.01, 2]).range([saLeft, saRight]);
  const y1 = d3.scaleLinear().domain([0, saMax[i]]).range([bottom, top]);

  svg.append('rect')
    .attr('x', x1(0.1)).attr('y', top)
    .attr('width', x1(0.5) - x1(0.1)).attr('height', bottom - top)
    .attr('fill', shadeFill);

  const saLine = d3.line().x(d => x1(d[0])).y(d => y1(d[1]));
  svg.append('path').datum(sa2[i]).attr('d', saLine)
    .attr('fill', 'none').attr('stroke', '#000').attr('stroke-width', 4.5)
    .attr('stroke-linejoin', 'round');
  svg.append('path').datum(sa5[i]).attr('d', saLine)
    .attr('fill', 'none').attr('stroke', '#ff0000').attr('stroke-width', 4.5)
    .attr('stroke-linejoin', 'round');

  const saMajor = d3.range(0, saMax[i] + 1e-9, 0.1);
  const saMinor = d3.range(0.05, saMax[i], 0.1);
  minorAxis(svg.append('g').attr('transform', `translate(${saLeft},0)`),
    d3.axisLeft(y1).tickValues(saMinor).tickSize(7).tickFormat(''));
  styleAxis(svg.append('g').attr('transform', `translate(${saLeft},0)`)
    .call(d3.axisLeft(y1).tickValues(saMajor).tickSize(13).tickSizeOuter(0)
      .tickPadding(8).tickFormat(d3.format('.1f'))), 37);

  minorAxis(svg.append('g').attr('transform', `translate(0,${bottom})`),
    d3.axisBottom(x1).tickValues(logMinors(0.01, 2)).tickSize(7).tickFormat(''));
  styleAxis(svg.append('g').attr('transform', `translate(0,${bottom})`)
    .call(d3.axisBottom(x1).tickValues(periodTicks).tickSize(13).tickSizeOuter(0)
      .tickPadding(10).tickFormat(d => String(d))), 37);

  addText(776, bottom + 93, 'Period (s)', 39, '#222', 'middle');
  addText(241, top + 354, 'Spectral accelaration (g)', 39, '#333', 'middle', -90);
  addText(388, top + 82, '2% damping', 45, '#333');
  addText(388, top + 135, '5% damping', 45, '#ff0000');
  addText(114, top + 402, site, 77, '#333', 'middle');

  // ---- amplification ----
  const x2 = d3.scaleLog().domain([0.5, 20]).range([ampLeft, ampRight]);
  const y2 = d3.scaleLog().domain([0.1, 10]).range([bottom, top]);

  svg.append('rect')
    .attr('x', x2(2)).attr('y', top)
    .attr('width', x2(10) - x2(2)).attr('height', bottom - top)
    .attr('fill', shadeFill);

  const ampLine = d3.line().x(d => x2(d[0])).y(d => y2(d[1])).curve(d3.curveMonotoneX);
  [ampHigh[i], ampLow[i]].forEach(s => {
    svg.append('path').datum(s).attr('d', ampLine)
      .attr('fill', 'none').attr('stroke', '#0000ff').attr('stroke-width', 4.5)
      .attr('stroke-dasharray', '16,9');
  });
  svg.append('path').datum(ampMean[i]).attr('d', ampLine)
    .attr('fill', 'none').attr('stroke', '#0000ff').attr('stroke-width', 4.5);

  minorAxis(svg.append('g').attr('transform', `translate(${ampLeft},0)`),
    d3.axisLeft(y2).tickValues(logMinors(0.1, 10)).tickSize(7).tickFormat(''));
  styleAxis(svg.append('g').attr('transform', `translate(${ampLeft},0)`)
    .call(d3.axisLeft(y2).tickValues(ampTicks).tickSize(13).tickSizeOuter(0)
      .tickPadding(8).tickFormat(d => String(d))), 37);

  minorAxis(svg.append('g').attr('transform', `translate(0,${bottom})`),
    d3.axisBottom(x2).tickValues(logMinors(0.5, 20)).tickSize(7).tickFormat(''));
  styleAxis(svg.append('g').attr('transform', `translate(0,${bottom})`)
    .call(d3.axisBottom(x2).tickValues(freqTicks).tickSize(13).tickSizeOuter(0)
      .tickPadding(10).tickFormat(d => String(d))), 37);

  addText(2006, bottom + 93, 'Frequency (Hz)', 39, '#222', 'middle');
  addText(1390, top + 352, 'Amplification', 39, '#333', 'middle', -90);

  // ---- PGA profile ----
  const x3 = d3.scaleLinear().domain([0, 0.14]).range([pgaLeft, pgaRight]);
  const y3 = d3.scaleLinear().domain([0, 40]).range([top, bottom]);

  const pgaLine = d3.line().x(d => x3(d[0])).y(d => y3(d[1]));
  [pgaLow[i], pgaHigh[i]].forEach(s => {
    svg.append('path').datum(s).attr('d', pgaLine)
      .attr('fill', 'none').attr('stroke', '#ff1a1a').attr('stroke-width', 3)
      .attr('stroke-dasharray', '9,6');
  });
  svg.append('path').datum(pgaMean[i]).attr('d', pgaLine)
    .attr('fill', 'none').attr('stroke', '#ff1a1a').attr('stroke-width', 5)
    .attr('stroke-linejoin', 'round');

  minorAxis(svg.append('g').attr('transform', `translate(0,${top})`),
    d3.axisTop(x3).tickValues(d3.range(0.01, 0.14, 0.02)).tickSize(7).tickFormat(''));
  styleAxis(svg.append('g').attr('transform', `translate(0,${top})`)
    .call(d3.axisTop(x3).tickValues(pgaTicks).tickSize(12).tickSizeOuter(0)
      .tickPadding(8).tickFormat(d3.format('.2f'))), 28);

  minorAxis(svg.append('g').attr('transform', `translate(${pgaLeft},0)`),
    d3.axisLeft(y3).tickValues(d3.range(2.5, 40, 5)).tickSize(7).tickFormat(''));
  styleAxis(svg.append('g').attr('transform', `translate(${pgaLeft},0)`)
    .call(d3.axisLeft(y3).tickValues(depthTicks).tickSize(12).tickSizeOuter(0)
      .tickPadding(8).tickFormat(d => String(d))), 28);

  addText(2943, top - 56, 'PGA (g)', 39, '#222', 'middle');
  addText(2506, top + 363, 'Depth (m)', 39, '#222', 'middle', -90);
  addText(2934, top + 235, `PGA = ${sitePga[i]}g`, 39, '#222');
});
</script>
</body>
</html>
